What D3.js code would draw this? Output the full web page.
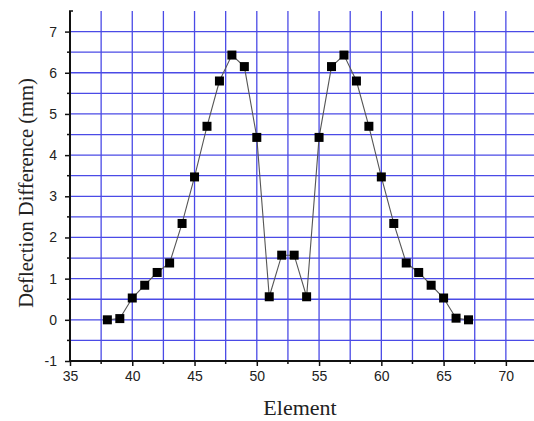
<!DOCTYPE html>
<html>
<head>
<meta charset="utf-8">
<script src="https://cdn.jsdelivr.net/npm/d3@7"></script>
<style>
  html, body { margin: 0; padding: 0; background: #fff; }
  svg { display: block; }
</style>
</head>
<body>
<svg id="chart" width="534" height="421"></svg>
<script>
// Element index and deflection difference (mm)
const elements = [38, 39, 40, 41, 42, 43, 44, 45, 46, 47, 48, 49, 50, 51, 52,
                  53, 54, 55, 56, 57, 58, 59, 60, 61, 62, 63, 64, 65, 66, 67];
const deflection = [0.00, 0.03, 0.53, 0.84, 1.15, 1.38, 2.34, 3.47, 4.70, 5.80, 6.43, 6.15, 4.43, 0.56, 1.57,
                    1.57, 0.56, 4.43, 6.15, 6.43, 5.80, 4.70, 3.47, 2.34, 1.38, 1.15, 0.84, 0.53, 0.04, 0.00];
const xTicks = [35, 40, 45, 50, 55, 60, 65, 70];
const yTicks = [-1, 0, 1, 2, 3, 4, 5, 6, 7];

const svg = d3.select("#chart");
const plotL = 70, plotR = 537, plotT = 11, plotB = 361;

const x = d3.scaleLinear().domain([35, 72.5]).range([plotL, plotR]);
const y = d3.scaleLinear().domain([-1, 7.5]).range([plotB, plotT]);

// grid
const gridColor = "#4a4ae6";
const g = svg.append("g");
g.selectAll("line.vx").data(d3.range(37.5, 72.6, 2.5)).join("line")
  .attr("x1", d => x(d)).attr("x2", d => x(d))
  .attr("y1", plotT).attr("y2", plotB)
  .attr("stroke", gridColor).attr("stroke-width", 1.3);
g.selectAll("line.hy").data(d3.range(-0.5, 7.01, 0.5)).join("line")
  .attr("x1", plotL).attr("x2", 534)
  .attr("y1", d => y(d)).attr("y2", d => y(d))
  .attr("stroke", gridColor).attr("stroke-width", 1.3);

// axes
const axisColor = "#111";
const tickFont = "'Liberation Sans', Arial, sans-serif";
const plain = d => String(d);

const xAxis = d3.axisBottom(x).tickValues(xTicks).tickFormat(plain).tickSize(5).tickPadding(5).tickSizeOuter(0);
const xg = svg.append("g").attr("transform", `translate(0,${plotB})`).call(xAxis);
xg.select(".domain").remove();
xg.selectAll(".tick line").attr("stroke", axisColor).attr("stroke-width", 1.5);
xg.selectAll("text").attr("font-family", tickFont).attr("font-size", 14).attr("fill", "#222");
svg.append("g").selectAll("line").data(d3.range(37.5, 72.6, 5)).join("line")
  .attr("x1", d => x(d)).attr("x2", d => x(d))
  .attr("y1", plotB).attr("y2", plotB + 3)
  .attr("stroke", axisColor).attr("stroke-width", 1.5);
svg.append("line").attr("x1", plotL - 1).attr("x2", 534)
  .attr("y1", plotB).attr("y2", plotB)
  .attr("stroke", axisColor).attr("stroke-width", 2);

const yAxis = d3.axisLeft(y).tickValues(yTicks).tickFormat(plain).tickSize(5).tickPadding(8).tickSizeOuter(0);
const yg = svg.append("g").attr("transform", `translate(${plotL},0)`).call(yAxis);
yg.select(".domain").remove();
yg.selectAll(".tick line").attr("stroke", axisColor).attr("stroke-width", 1.5);
yg.selectAll("text").attr("font-family", tickFont).attr("font-size", 14).attr("fill", "#222");
svg.append("g").selectAll("line").data(d3.range(-0.5, 7.01, 1)).join("line")
  .attr("x1", plotL - 3).attr("x2", plotL)
  .attr("y1", d => y(d)).attr("y2", d => y(d))
  .attr("stroke", axisColor).attr("stroke-width", 1.5);
svg.append("line").attr("x1", plotL).attr("x2", plotL)
  .attr("y1", plotT).attr("y2", plotB + 1)
  .attr("stroke", axisColor).attr("stroke-width", 2);
svg.append("line").attr("x1", plotL - 1).attr("x2", plotL + 3)
  .attr("y1", plotT).attr("y2", plotT)
  .attr("stroke", axisColor).attr("stroke-width", 1.5);

// data line and markers
const pts = elements.map((e, i) => [e, deflection[i]]);
svg.append("path").datum(pts)
  .attr("fill", "none").attr("stroke", "#555").attr("stroke-width", 1.1)
  .attr("d", d3.line().x(d => x(d[0])).y(d => y(d[1])));
const ms = 9;
svg.append("g").selectAll("rect").data(pts).join("rect")
  .attr("x", d => x(d[0]) - ms / 2).attr("y", d => y(d[1]) - ms / 2)
  .attr("width", ms).attr("height", ms).attr("fill", "#000");

// axis titles
const titleFont = "'Liberation Serif', 'Times New Roman', serif";
svg.append("text").attr("x", 300).attr("y", 415)
  .attr("text-anchor", "middle").attr("font-family", titleFont).attr("font-size", 22)
  .attr("fill", "#222").text("Element");
svg.append("text").attr("transform", "translate(33,193) rotate(-90)")
  .attr("text-anchor", "middle").attr("font-family", titleFont).attr("font-size", 20.5)
  .attr("fill", "#222").text("Deflection Difference (mm)");
</script>
</body>
</html>
